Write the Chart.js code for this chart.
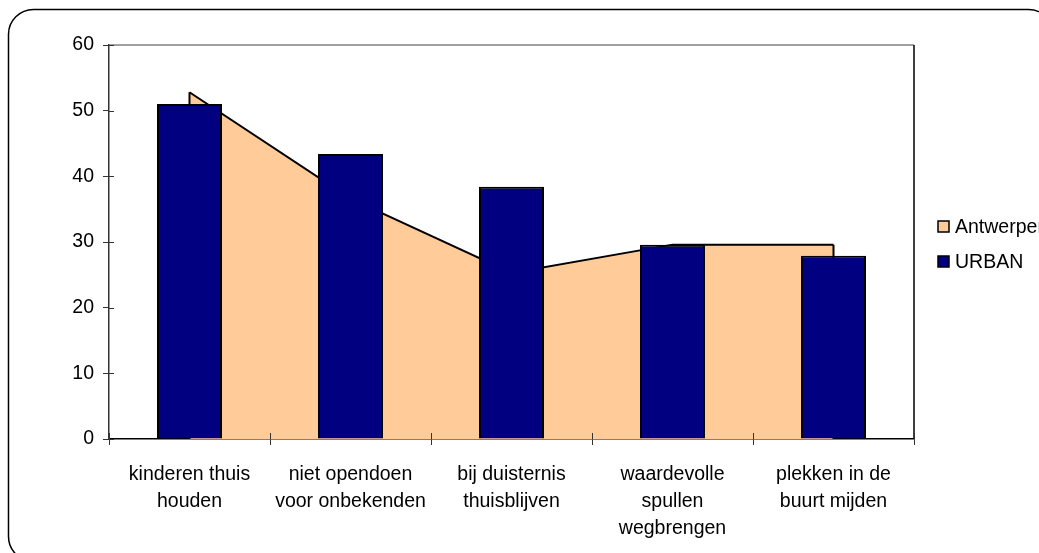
<!DOCTYPE html>
<html><head><meta charset="utf-8">
<script src="https://cdn.jsdelivr.net/npm/chart.js@4/dist/chart.umd.min.js"></script>
<style>html,body{margin:0;padding:0;background:#fff;overflow:hidden}#wrap{width:1039px;height:553px;position:relative}</style>
</head><body><div id="wrap"><canvas id="c" width="1039" height="553"></canvas></div>
<script>
const categories = [["kinderen thuis","houden"],["niet opendoen","voor onbekenden"],["bij duisternis","thuisblijven"],["waardevolle","spullen","wegbrengen"],["plekken in de","buurt mijden"]];
const seriesNames = ["Antwerpen", "URBAN"];
const antwerpenValues = [52.8, 36.6, 25.3, 29.6, 29.6];
const urbanValues = [51.0, 43.4, 38.4, 29.6, 27.9];
const yMin = 0, yMax = 60, yStep = 10;

const FONT = {family: "'Liberation Sans', Arial, sans-serif", size: 19.5, lineHeight: 27/19.5};

const framePlugin = {
  id: 'frame',
  beforeDraw(chart) {
    const ctx = chart.ctx;
    ctx.save();
    ctx.fillStyle = '#fff';
    ctx.fillRect(0, 0, chart.width, chart.height);
    ctx.strokeStyle = '#000';
    ctx.lineWidth = 1.5;
    ctx.beginPath();
    ctx.roundRect(8.5, 9.5, 1045, 552, 25);
    ctx.stroke();
    ctx.restore();
  },
  afterDatasetDraw(chart, args) {
    if (args.index !== 0) return;
    const pts = args.meta.data;
    const base = chart.scales.y.getPixelForValue(0);
    const ctx = chart.ctx;
    ctx.save();
    ctx.strokeStyle = '#000';
    ctx.lineWidth = 2;
    ctx.beginPath();
    ctx.moveTo(pts[0].x, base); ctx.lineTo(pts[0].x, pts[0].y);
    const l = pts[pts.length-1];
    ctx.moveTo(l.x, base); ctx.lineTo(l.x, l.y);
    ctx.stroke();
    ctx.restore();
  },
  afterDraw(chart) {
    const ctx = chart.ctx, a = chart.chartArea;
    ctx.save();
    ctx.lineWidth = 1.5;
    ctx.strokeStyle = '#808080';
    ctx.beginPath(); ctx.moveTo(a.left, a.top); ctx.lineTo(a.right, a.top); ctx.stroke();
    ctx.strokeStyle = '#000';
    ctx.beginPath(); ctx.moveTo(a.right, a.top); ctx.lineTo(a.right, a.bottom); ctx.stroke();
    ctx.lineWidth = 1;
    ctx.strokeStyle = '#333';
    const ys = chart.scales.y;
    ys.ticks.forEach((t) => {
      const py = Math.round(ys.getPixelForValue(t.value)) + 0.5;
      ctx.beginPath(); ctx.moveTo(a.left, py); ctx.lineTo(a.left + 5, py); ctx.stroke();
    });
    const xs = chart.scales.x;
    const n = chart.data.labels.length;
    for (let i = 0; i <= n; i++) {
      const px = Math.round(xs.getPixelForValue(i - 0.5)) + 0.5;
      ctx.beginPath(); ctx.moveTo(px, a.bottom); ctx.lineTo(px, a.bottom - 6); ctx.stroke();
    }
    ctx.font = "19.5px 'Liberation Sans', Arial, sans-serif";
    ctx.textBaseline = 'middle';
    ctx.textAlign = 'left';
    chart.data.datasets.forEach((ds, i) => {
      const bx = a.right + 24, by = 221 + i * 35;
      ctx.fillStyle = ds.backgroundColor;
      ctx.fillRect(bx, by, 11, 11);
      ctx.lineWidth = 1.5;
      ctx.strokeStyle = '#000';
      ctx.strokeRect(bx, by, 11, 11);
      ctx.fillStyle = '#000';
      ctx.fillText(ds.label, bx + 17, by + 7);
    });
    ctx.restore();
  }
};

new Chart(document.getElementById('c'), {
  type: 'bar',
  data: {
    labels: categories,
    datasets: [
      {type: 'line', label: seriesNames[0], data: antwerpenValues, order: 2,
       backgroundColor: '#FFCC99', borderColor: '#000', borderWidth: 2,
       fill: 'origin', pointRadius: 0, tension: 0},
      {type: 'bar', label: seriesNames[1], data: urbanValues, order: 1,
       backgroundColor: '#000080', borderColor: '#000', borderWidth: 2,
       categoryPercentage: 1, barPercentage: 0.404}
    ]
  },
  options: {
    responsive: false, animation: false, devicePixelRatio: 1,
    layout: {padding: {top: 45, right: 125, left: 0, bottom: 0}},
    plugins: {legend: {display: false}, tooltip: {enabled: false}},
    scales: {
      x: {
        offset: true,
        grid: {offset: true, drawOnChartArea: false, tickLength: 6, color: '#333', lineWidth: 1},
        border: {color: '#000', width: 1.5},
        ticks: {font: FONT, color: '#000', padding: 16.5, maxRotation: 0, minRotation: 0, autoSkip: false},
        afterFit(s) { s.height = 114; }
      },
      y: {
        min: yMin, max: yMax,
        grid: {drawOnChartArea: false, tickLength: 6, color: '#333', lineWidth: 1},
        border: {color: '#333', width: 1.5},
        ticks: {stepSize: yStep, font: FONT, color: '#000', padding: 9},
        afterFit(s) { s.width = 109; }
      }
    }
  },
  plugins: [framePlugin]
});
</script>
</body></html>
